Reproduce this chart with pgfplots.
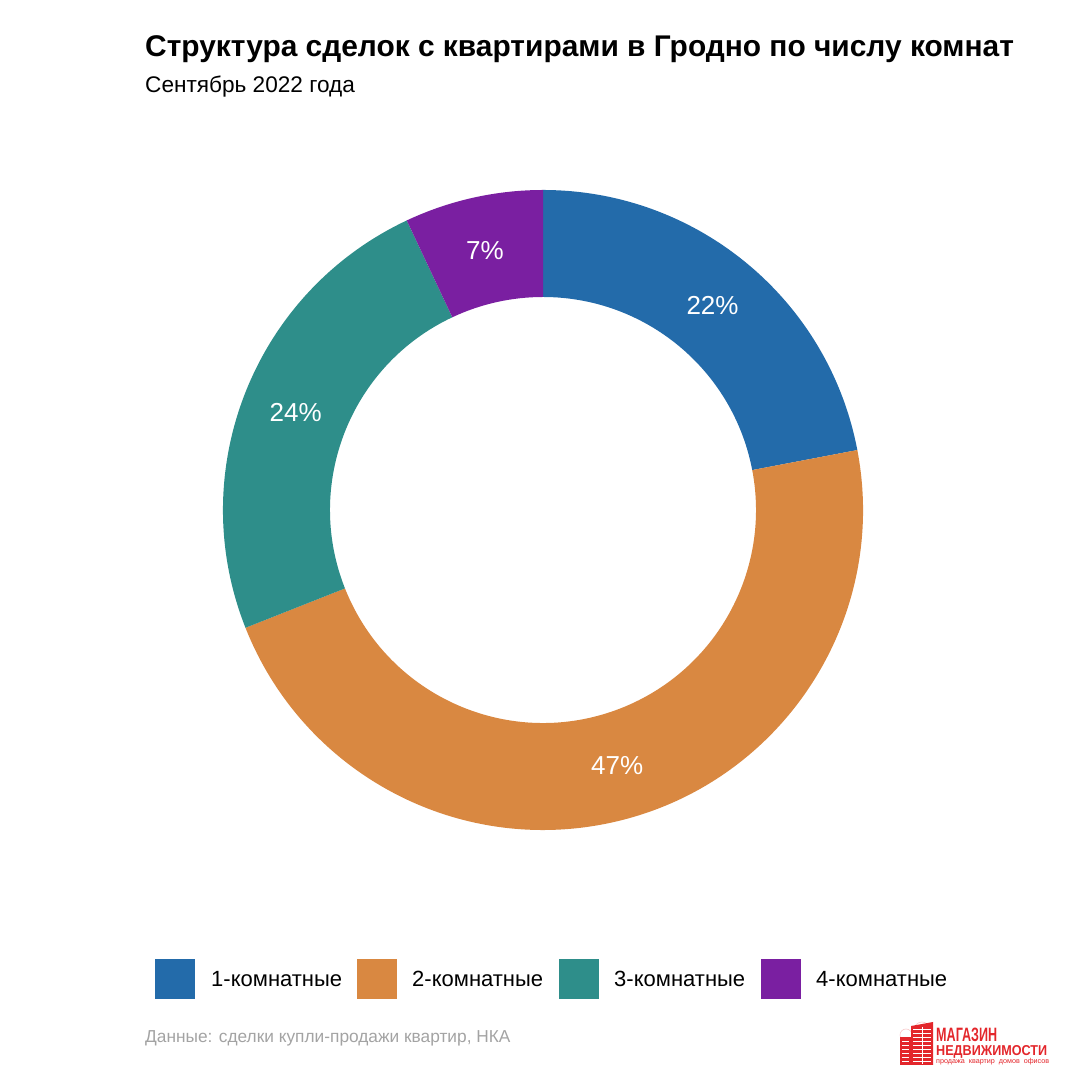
\documentclass[border=0pt]{standalone}
\usepackage{pgfplots}
\pgfplotsset{compat=1.18}
\usepackage{pgfplotstable}
\usepackage{fontspec}
\setmainfont{Liberation Sans}
\definecolor{c1}{HTML}{236BAA}
\definecolor{c2}{HTML}{D98841}
\definecolor{c3}{HTML}{2E8E8A}
\definecolor{c4}{HTML}{7A1FA1}
\definecolor{logored}{HTML}{E3262B}
\definecolor{capgray}{HTML}{A3A3A3}

\pgfplotstableread{
idx value
1 22
2 47
3 24
4 7
}\rooms

\begin{document}
\begin{tikzpicture}[x=1bp,y=1bp]
\useasboundingbox (0,0) rectangle (1080,1080);
% titles
\node[anchor=base west,inner sep=0,font=\fontsize{29.9bp}{33bp}\selectfont\bfseries] at (145,1023) {Структура сделок с квартирами в Гродно по числу комнат};
\node[anchor=base west,inner sep=0,font=\fontsize{22.6bp}{26bp}\selectfont] at (145,987) {Сентябрь 2022 года};
\node[anchor=base west,inner sep=0,text=capgray,font=\fontsize{17.3bp}{20bp}\selectfont] at (145,37) {Данные: сделки купли-продажи квартир, НКА};

\begin{axis}[at={(0,0)},anchor=south west,scale only axis,width=1080bp,height=1080bp,
  xmin=0,xmax=1080,ymin=0,ymax=1080,hide axis,clip=false]
\def\s{90}
\pgfplotsforeachungrouped \i in {0,...,3}{%
  \pgfplotstablegetelem{\i}{value}\of\rooms
  \let\v\pgfplotsretval
  \pgfmathsetmacro\e{\s-3.6*\v}
  \pgfmathsetmacro\m{(\s+\e)/2}
  \pgfmathsetmacro\lx{543+266*cos(\m)}
  \pgfmathsetmacro\ly{570+266*sin(\m)}
  \pgfmathtruncatemacro\cn{\i+1}
  \edef\temp{\noexpand\fill[c\cn] (axis cs:543,570) ++(\s:320bp) arc[start angle=\s, end angle=\e, radius=320bp] -- ++(\e:-107bp) arc[start angle=\e, end angle=\s, radius=213bp] -- cycle;
    \noexpand\node[text=white,inner sep=0,font=\noexpand\fontsize{26bp}{30bp}\noexpand\selectfont] at (axis cs:\lx,\ly) {\v\noexpand\%};}%
  \temp
  \global\let\s\e
}
% legend keys
\addplot[only marks,mark=square*,mark size=19.5bp,mark options={draw=c1,fill=c1}] coordinates {(174.5,101.5)};
\addplot[only marks,mark=square*,mark size=19.5bp,mark options={draw=c2,fill=c2}] coordinates {(376.5,101.5)};
\addplot[only marks,mark=square*,mark size=19.5bp,mark options={draw=c3,fill=c3}] coordinates {(578.5,101.5)};
\addplot[only marks,mark=square*,mark size=19.5bp,mark options={draw=c4,fill=c4}] coordinates {(780.5,101.5)};
\end{axis}
% legend labels
\begin{scope}[every node/.style={anchor=base west,inner sep=0,font=\fontsize{22bp}{26bp}\selectfont}]
\node at (211,93) {1-комнатные};
\node at (412,93) {2-комнатные};
\node at (614,93) {3-комнатные};
\node at (816,93) {4-комнатные};
\end{scope}
% logo
\begin{scope}
\draw[logored!25,line width=0.6bp] (922,50) circle (8);
\draw[logored!25,line width=0.6bp] (906,45) circle (6);
\fill[logored] (900,15) rectangle (916,43);
\fill[logored] (911,15) -- (911,54) -- (933,58) -- (933,15) -- cycle;
\foreach \yy in {19,23,...,51} {\draw[white,line width=0.9bp] (913,\yy) -- (931,\yy);}
\foreach \yy in {19,23,...,39} {\draw[white,line width=0.9bp] (902,\yy) -- (909,\yy);}
\draw[white,line width=0.7bp] (922,16) -- (922,53);
\node[anchor=base west,inner sep=0,text=logored] at (936,39) {\resizebox{61bp}{13.5bp}{\bfseries МАГАЗИН}};
\node[anchor=base west,inner sep=0,text=logored] at (936,24) {\resizebox{111bp}{10bp}{\bfseries НЕДВИЖИМОСТИ}};
\node[anchor=base west,inner sep=0,text=logored] at (936,17) {\resizebox{113bp}{!}{\fontsize{7bp}{8bp}\selectfont продажа\ \ квартир\ \ домов\ \ офисов}};
\end{scope}
\end{tikzpicture}
\end{document}
